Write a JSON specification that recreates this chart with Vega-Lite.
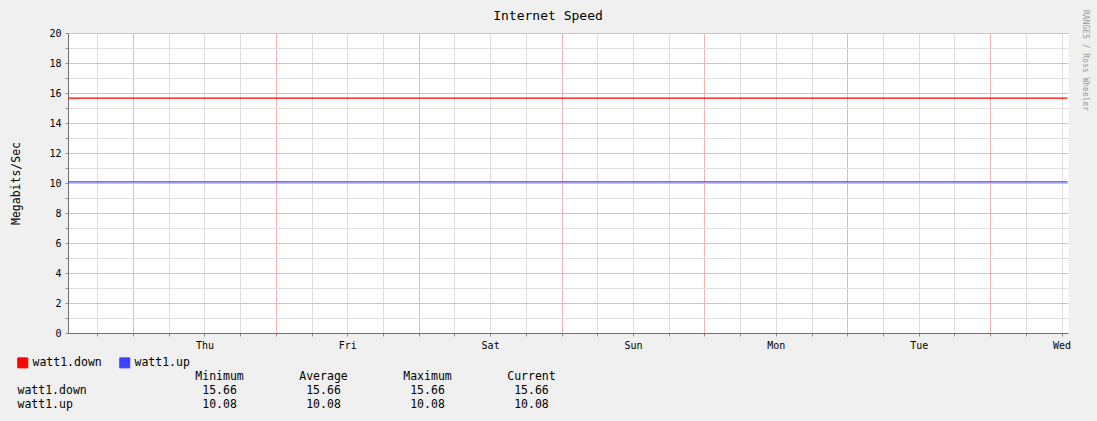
{
  "$schema": "https://vega.github.io/schema/vega-lite/v6.json",
  "background": "#f0f0f0",
  "padding": {"left": 10, "top": 10, "right": 8, "bottom": 10},
  "title": {
    "text": "RANGES / Ross Wheeler",
    "orient": "right",
    "anchor": "start",
    "angle": 90,
    "fontSize": 8,
    "fontWeight": "normal",
    "color": "#9a9a9a",
    "offset": 10
  },
  "datasets": {
    "speed": [
      {"series": "watt1.down", "time": "2013-01-02T13:05:00", "value": 15.66},
      {"series": "watt1.down", "time": "2013-01-03T13:05:00", "value": 15.66},
      {"series": "watt1.down", "time": "2013-01-04T13:05:00", "value": 15.66},
      {"series": "watt1.down", "time": "2013-01-05T13:05:00", "value": 15.66},
      {"series": "watt1.down", "time": "2013-01-06T13:05:00", "value": 15.66},
      {"series": "watt1.down", "time": "2013-01-07T13:05:00", "value": 15.66},
      {"series": "watt1.down", "time": "2013-01-08T13:05:00", "value": 15.66},
      {"series": "watt1.down", "time": "2013-01-09T13:00:00", "value": 15.66},
      {"series": "watt1.up", "time": "2013-01-02T13:05:00", "value": 10.08},
      {"series": "watt1.up", "time": "2013-01-03T13:05:00", "value": 10.08},
      {"series": "watt1.up", "time": "2013-01-04T13:05:00", "value": 10.08},
      {"series": "watt1.up", "time": "2013-01-05T13:05:00", "value": 10.08},
      {"series": "watt1.up", "time": "2013-01-06T13:05:00", "value": 10.08},
      {"series": "watt1.up", "time": "2013-01-07T13:05:00", "value": 10.08},
      {"series": "watt1.up", "time": "2013-01-08T13:05:00", "value": 10.08},
      {"series": "watt1.up", "time": "2013-01-09T13:00:00", "value": 10.08}
    ],
    "stats": [
      {"series": "watt1.down", "stat": "Minimum", "value": 15.66},
      {"series": "watt1.down", "stat": "Average", "value": 15.66},
      {"series": "watt1.down", "stat": "Maximum", "value": 15.66},
      {"series": "watt1.down", "stat": "Current", "value": 15.66},
      {"series": "watt1.up", "stat": "Minimum", "value": 10.08},
      {"series": "watt1.up", "stat": "Average", "value": 10.08},
      {"series": "watt1.up", "stat": "Maximum", "value": 10.08},
      {"series": "watt1.up", "stat": "Current", "value": 10.08}
    ]
  },
  "spacing": 20,
  "vconcat": [
    {
      "width": 1000,
      "height": 300,
      "title": {
        "text": "Internet Speed",
        "fontSize": 13,
        "fontWeight": "normal",
        "color": "#000000",
        "anchor": "middle",
        "offset": 5,
        "dx": -20
      },
      "view": {"fill": "#ffffff"},
      "data": {"name": "speed"},
      "mark": {"type": "line", "strokeWidth": 1.2},
      "encoding": {
        "x": {
          "field": "time",
          "type": "temporal",
          "scale": {
            "domain": [
              {"year": 2013, "month": 1, "date": 2, "hours": 13, "minutes": 5},
              {"year": 2013, "month": 1, "date": 9, "hours": 13, "minutes": 5}
            ]
          },
          "axis": {
            "title": null,
            "tickCount": 28,
            "labelExpr": "hours(datum.value) == 12 ? timeFormat(datum.value, '%a') : ''",
            "labelOverlap": false,
            "labelFlush": false,
            "labelBound": false,
            "labelFontSize": 10,
            "labelPadding": 4,
            "tickSize": 3,
            "gridColor": {"condition": {"test": "hours(datum.value) == 0", "value": "#f0b4b4"}, "value": "#dedede"}
          }
        },
        "y": {
          "field": "value",
          "type": "quantitative",
          "scale": {"domain": [0, 20], "nice": false},
          "axis": {
            "title": "Megabits/Sec",
            "values": [0, 1, 2, 3, 4, 5, 6, 7, 8, 9, 10, 11, 12, 13, 14, 15, 16, 17, 18, 19, 20],
            "labelExpr": "datum.value % 2 == 0 ? datum.label : ''",
            "labelFontSize": 10,
            "labelPadding": 4,
            "tickSize": 3,
            "gridColor": {"condition": {"test": "datum.value % 2 == 0", "value": "#f0b4b4"}, "value": "#e0e0e0"},
            "titleFontSize": 11.5,
            "titlePadding": 27
          }
        },
        "color": {
          "field": "series",
          "type": "nominal",
          "scale": {"domain": ["watt1.down", "watt1.up"], "range": ["#ff0000", "#4040ff"]},
          "legend": {
            "orient": "none",
            "legendX": -51,
            "legendY": 324,
            "direction": "horizontal",
            "title": null,
            "symbolType": "square",
            "symbolSize": 100,
            "symbolStrokeWidth": 1,
            "labelFontSize": 11.5,
            "labelColor": "#000000",
            "labelOffset": 4,
            "columnPadding": 15,
            "encode": {
              "symbols": {
                "update": {
                  "fill": {"scale": "color", "field": "value"},
                  "fillOpacity": {"value": 1},
                  "stroke": {"value": "#000000"},
                  "strokeWidth": {"value": 1}
                }
              }
            }
          }
        }
      }
    },
    {
      "width": 615,
      "height": 28,
      "data": {"name": "stats"},
      "mark": {"type": "text", "fontSize": 11.5, "align": "center", "baseline": "middle", "color": "#000000"},
      "encoding": {
        "x": {
          "field": "stat",
          "type": "nominal",
          "sort": ["Minimum", "Average", "Maximum", "Current"],
          "scale": {"type": "band", "paddingInner": 0, "paddingOuter": 0.957},
          "axis": {
            "orient": "top",
            "title": null,
            "labelAngle": 0,
            "ticks": false,
            "domain": false,
            "grid": false,
            "labelPadding": 3,
            "labelFontSize": 11.5
          }
        },
        "y": {
          "field": "series",
          "type": "nominal",
          "sort": ["watt1.down", "watt1.up"],
          "scale": {"type": "band", "paddingInner": 0, "paddingOuter": 0},
          "axis": {
            "title": null,
            "ticks": false,
            "domain": false,
            "grid": false,
            "labelAlign": "left",
            "labelPadding": 51,
            "labelFontSize": 11.5
          }
        },
        "text": {"field": "value", "type": "quantitative", "format": ".2f"}
      }
    }
  ],
  "config": {
    "font": "DejaVu Sans Mono",
    "view": {"strokeOpacity": 0},
    "axis": {
      "labelColor": "#000000",
      "titleColor": "#000000",
      "titleFontWeight": "normal",
      "domainColor": "#707070",
      "tickColor": "#909090"
    }
  }
}
